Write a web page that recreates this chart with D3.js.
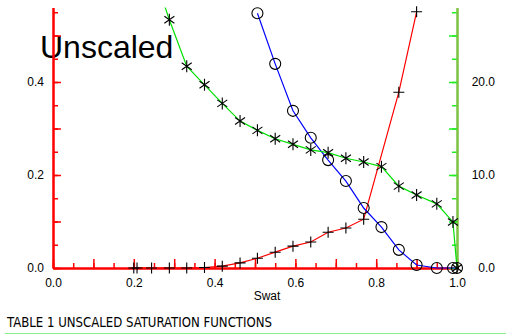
<!DOCTYPE html>
<html>
<head>
<meta charset="utf-8">
<script src="https://d3js.org/d3.v7.min.js"></script>
<style>
  body { margin: 0; background: #fff; }
  text { font-family: "Liberation Sans", Arial, sans-serif; }
</style>
</head>
<body>
<svg width="506" height="334" id="chart"></svg>
<script>
// values
var swatKrw  = [0.2, 0.208, 0.244, 0.288, 0.331, 0.375, 0.419, 0.463, 0.506, 0.55, 0.594, 0.638, 0.681, 0.725, 0.769, 0.856, 0.9]
var krw      = [0, 0, 0, 0, 0, 0.001, 0.004, 0.011, 0.021, 0.034, 0.047, 0.056, 0.077, 0.086, 0.105, 0.378, 0.551]

var swatKrow = [0.506, 0.55, 0.594, 0.638, 0.681, 0.725, 0.769, 0.813, 0.856, 0.9, 0.95, 0.99, 1.0]
var krow     = [0.548, 0.439, 0.338, 0.280, 0.232, 0.187, 0.129, 0.088, 0.039, 0.0065, 0, 0, 0]

var swatPc   = [0.244, 0.288, 0.331, 0.375, 0.419, 0.463, 0.506, 0.55, 0.594, 0.638, 0.681, 0.725, 0.769, 0.813, 0.856, 0.9, 0.95, 0.99, 1.0]
var pcow     = [32.3, 26.7, 21.7, 19.7, 17.7, 15.8, 14.8, 13.9, 13.3, 12.7, 12.4, 11.8, 11.4, 10.9, 8.8, 7.85, 6.9, 4.95, 0]

var xLabels  = [0, 0.2, 0.4, 0.6, 0.8, 1.0]
var yLLabels = [0, 0.2, 0.4]
var yRLabels = [0, 10, 20]

var svg = d3.select("#chart")
var x  = d3.scaleLinear().domain([0, 1]).range([53, 457])
var yL = d3.scaleLinear().domain([0, 0.56]).range([268, 7.6])
var yR = d3.scaleLinear().domain([0, 28]).range([268, 7.6])

function zip(a, b) { return a.map(function(v, i) { return {x: v, y: b[i]} }) }
var krwData  = zip(swatKrw, krw)
var krowData = zip(swatKrow, krow)
var pcData   = zip(swatPc, pcow)

svg.append("clipPath").attr("id", "clip")
  .append("rect").attr("x", 40).attr("y", 7.6).attr("width", 430).attr("height", 300)

// title / labels
svg.append("text").attr("x", 40).attr("y", 58)
  .style("font-size", "32px").attr("fill", "#000").text("Unscaled")

svg.append("text").attr("x", 267).attr("y", 300).attr("text-anchor", "middle")
  .style("font-size", "12px").text("Swat")

svg.append("text").attr("x", 7).attr("y", 327)
  .style("font-family", "'Liberation Sans Narrow', 'DejaVu Sans Condensed', sans-serif")
  .style("font-size", "14px")
  .attr("textLength", 265).attr("lengthAdjust", "spacingAndGlyphs")
  .text("TABLE 1 UNSCALED SATURATION FUNCTIONS")

svg.append("line").attr("x1", 5).attr("x2", 506).attr("y1", 333.5).attr("y2", 333.5)
  .attr("stroke", "#88ee88").attr("stroke-width", 1)

// axes: minor ticks then major ticks with labels
function styleAxis(g, col, lineCol) {
  g.selectAll(".tick line").attr("stroke", col).attr("stroke-width", 1.5)
  g.select(".domain").attr("stroke", lineCol || col).attr("stroke-width", 2)
  g.selectAll("text").style("font-size", "12px").attr("fill", "#000")
}

var bMinor = svg.append("g").attr("transform", "translate(0,268)")
  .call(d3.axisBottom(x).tickValues(d3.range(0, 1.001, 0.05)).tickSizeInner(-5).tickSizeOuter(0).tickFormat(""))
styleAxis(bMinor, "#ff0000")
var bMajor = svg.append("g").attr("transform", "translate(0,268)")
  .call(d3.axisBottom(x).tickValues(d3.range(0, 1.001, 0.1)).tickSizeInner(-9).tickSizeOuter(0).tickPadding(10.5)
    .tickFormat(function(d) { return xLabels.some(function(v) { return Math.abs(v - d) < 1e-6 }) ? d3.format(".1f")(d) : "" }))
styleAxis(bMajor, "#ff0000")

var lMinor = svg.append("g").attr("transform", "translate(53,0)")
  .call(d3.axisLeft(yL).tickValues(d3.range(0, 0.56, 0.05)).tickSizeInner(-5).tickSizeOuter(0).tickFormat(""))
styleAxis(lMinor, "#ff0000")
var lMajor = svg.append("g").attr("transform", "translate(53,0)")
  .call(d3.axisLeft(yL).tickValues(d3.range(0, 0.56, 0.1)).tickSizeInner(-8).tickSizeOuter(0).tickPadding(9)
    .tickFormat(function(d) { return yLLabels.some(function(v) { return Math.abs(v - d) < 1e-6 }) ? d3.format(".1f")(d) : "" }))
styleAxis(lMajor, "#ff0000")

var rMinor = svg.append("g").attr("transform", "translate(457,0)")
  .call(d3.axisRight(yR).tickValues(d3.range(0, 28, 2.5)).tickSizeInner(-5).tickSizeOuter(0).tickFormat(""))
styleAxis(rMinor, "#22ee22", "#7cc242")
var rMajor = svg.append("g").attr("transform", "translate(457,0)")
  .call(d3.axisRight(yR).tickValues(d3.range(0, 28, 5)).tickSizeInner(-8).tickSizeOuter(0)
    .tickFormat(function(d) { return yRLabels.indexOf(d) >= 0 ? d3.format(".1f")(d) : "" }))
styleAxis(rMajor, "#22ee22", "#7cc242")
rMajor.selectAll("text").attr("text-anchor", "end").attr("x", 38)

// curves
var lineL = d3.line().x(function(d) { return x(d.x) }).y(function(d) { return yL(d.y) })
var lineR = d3.line().x(function(d) { return x(d.x) }).y(function(d) { return yR(d.y) })
var plot = svg.append("g").attr("clip-path", "url(#clip)")

plot.append("path").datum(krwData).attr("d", lineL)
  .attr("fill", "none").attr("stroke", "#ff0000").attr("stroke-width", 1.2)
plot.append("path").datum(krowData).attr("d", lineL)
  .attr("fill", "none").attr("stroke", "#0000ff").attr("stroke-width", 1.2)
plot.append("path").datum(pcData).attr("d", lineR)
  .attr("fill", "none").attr("stroke", "#00e000").attr("stroke-width", 1.2)

// markers
var m = svg.append("g").attr("stroke", "#000").attr("stroke-width", 1.1).attr("fill", "none")

m.selectAll(".plus").data(krwData.filter(function(d) { return d.y <= 0.56 })).enter()
  .append("path").attr("class", "plus")
  .attr("transform", function(d) { return "translate(" + x(d.x) + "," + yL(d.y) + ")" })
  .attr("d", "M-5.5,0H5.5M0,-5.5V5.5")

m.selectAll(".circ").data(krowData.filter(function(d) { return d.y <= 0.56 })).enter()
  .append("circle").attr("class", "circ")
  .attr("cx", function(d) { return x(d.x) }).attr("cy", function(d) { return yL(d.y) }).attr("r", 5.5)

m.selectAll(".star").data(pcData.filter(function(d) { return d.y <= 28 })).enter()
  .append("path").attr("class", "star")
  .attr("transform", function(d) { return "translate(" + x(d.x) + "," + yR(d.y) + ")" })
  .attr("d", "M0,-6V6M-5,-3.5L5,3.5M-5,3.5L5,-3.5")
</script>
</body>
</html>
